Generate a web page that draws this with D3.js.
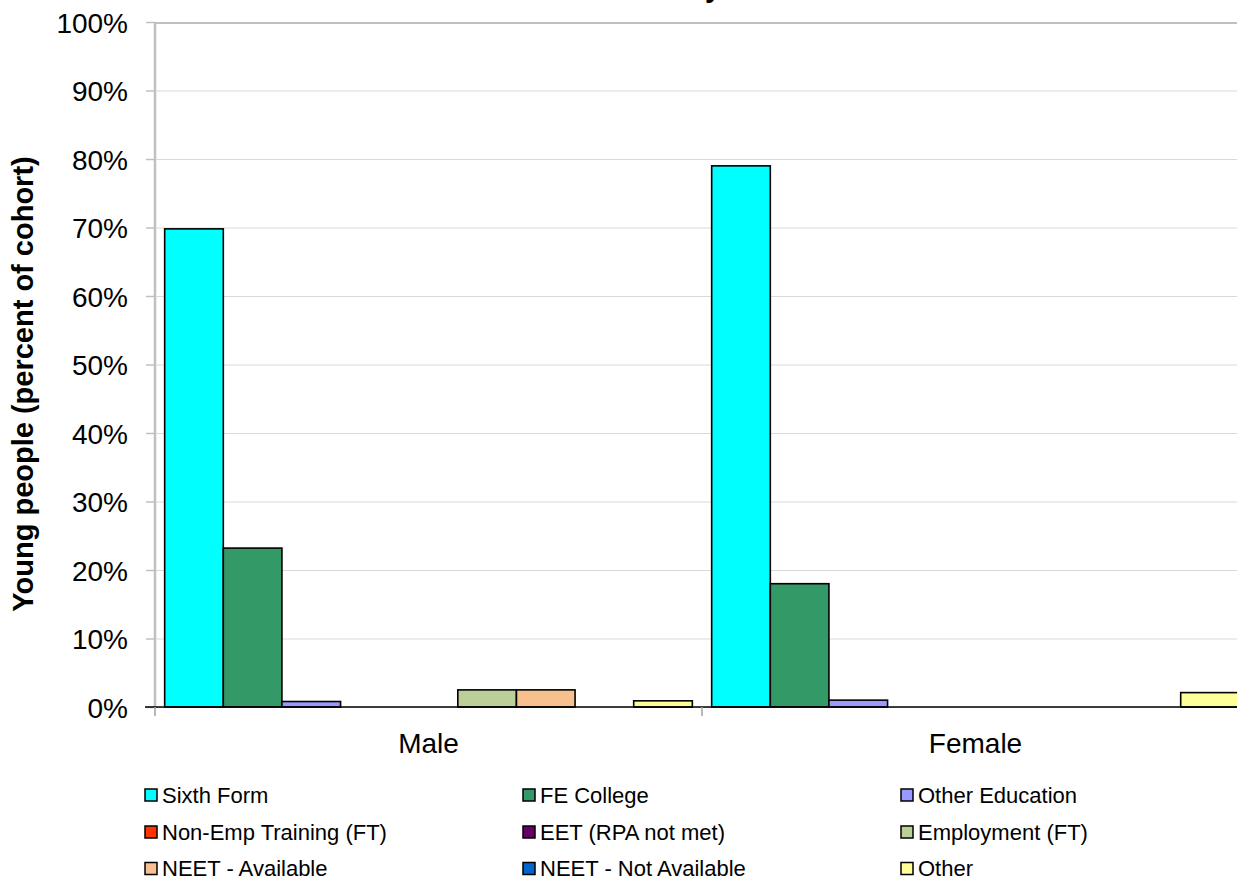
<!DOCTYPE html>
<html>
<head>
<meta charset="utf-8">
<script src="https://cdn.jsdelivr.net/npm/d3@7"></script>
<style>
  html, body { margin: 0; padding: 0; background: #fff; overflow: hidden; }
  svg { display: block; font-family: Arial, "Liberation Sans", sans-serif; }
</style>
</head>
<body>
<svg id="chart" width="1237" height="879"></svg>
<script>
// ---- Data ----
const chartTitle = "Destinations by Gender";
const yAxisTitle = "Young people (percent of cohort)";
const categories = ["Male", "Female"];
const seriesNames = [
  "Sixth Form", "FE College", "Other Education",
  "Non-Emp Training (FT)", "EET (RPA not met)", "Employment (FT)",
  "NEET - Available", "NEET - Not Available", "Other"
];
const seriesColors = [
  "#00FFFF", "#339966", "#9999FF",
  "#FF3300", "#660066", "#BBCF98",
  "#F9C08F", "#0066CC", "#FFFF99"
];
const maleValues   = [0.698, 0.232, 0.008, 0, 0, 0.025, 0.025, 0, 0.009];
const femaleValues = [0.790, 0.180, 0.010, 0, 0, 0, 0, 0, 0.021];
const yTicks = [0, 0.1, 0.2, 0.3, 0.4, 0.5, 0.6, 0.7, 0.8, 0.9, 1.0];

const valuesByCategory = { "Male": maleValues, "Female": femaleValues };

// ---- Layout ----
const svg = d3.select("#chart");
const plotLeft = 155, plotRight = 1249, plotTop = 22, plotBottom = 707;

const x0 = d3.scaleBand().domain(categories).range([plotLeft, plotRight]).paddingInner(0).paddingOuter(0);
const x1 = d3.scaleBand().domain(seriesNames).range([0, x0.bandwidth()]).paddingInner(0).paddingOuter(0.165);
const y = d3.scaleLinear().domain([0, 1]).range([plotBottom, plotTop]);
const color = d3.scaleOrdinal().domain(seriesNames).range(seriesColors);

// Gridlines
const grid = svg.append("g")
  .attr("transform", `translate(${plotLeft},0)`)
  .call(d3.axisLeft(y).tickValues(yTicks).tickSize(-(plotRight - plotLeft)).tickFormat(""));
grid.select(".domain").remove();
grid.selectAll("line").attr("stroke", "#d9d9d9").attr("stroke-width", 1);

// Plot border (top)
svg.append("line")
  .attr("x1", plotLeft).attr("x2", plotRight)
  .attr("y1", plotTop + 1).attr("y2", plotTop + 1)
  .attr("stroke", "#c0c0c0").attr("stroke-width", 2);

// Y axis
const yAxis = svg.append("g")
  .attr("transform", `translate(${plotLeft},0)`)
  .call(d3.axisLeft(y).tickValues(yTicks).tickSize(9).tickPadding(18).tickFormat(d3.format(".0%")));
yAxis.select(".domain").attr("stroke", "#c0c0c0").attr("stroke-width", 2.5).attr("d", `M0,${plotTop}V${plotBottom}`);
yAxis.selectAll(".tick line").attr("stroke", "#c0c0c0").attr("stroke-width", 1.5);
yAxis.selectAll(".tick text")
  .attr("font-size", 28).attr("fill", "#000")
  .attr("font-family", "Arial, 'Liberation Sans', sans-serif")
  .attr("dy", "0.36em");

// Bars
const groups = svg.append("g").selectAll("g")
  .data(categories).join("g")
  .attr("transform", d => `translate(${x0(d)},0)`);

groups.selectAll("rect")
  .data(cat => seriesNames.map((s, i) => ({ series: s, value: valuesByCategory[cat][i] })))
  .join("rect")
  .attr("x", d => x1(d.series))
  .attr("width", x1.bandwidth())
  .attr("y", d => y(d.value))
  .attr("height", d => y(0) - y(d.value))
  .attr("fill", d => color(d.series))
  .attr("stroke", "#000")
  .attr("stroke-width", 1.6);

// X axis
const xAxis = svg.append("g")
  .attr("transform", `translate(0,${plotBottom})`)
  .call(d3.axisBottom(x0).tickSize(0).tickPadding(26));
xAxis.select(".domain").attr("stroke", "#000").attr("stroke-width", 1.5).attr("d", `M${plotLeft - 10},0H${plotRight}`);
xAxis.selectAll(".tick text")
  .attr("font-size", 28).attr("fill", "#000")
  .attr("font-family", "Arial, 'Liberation Sans', sans-serif");
// Category separator ticks
svg.append("g").selectAll("line")
  .data(categories.map(c => x0(c)).concat([plotRight]))
  .join("line")
  .attr("x1", d => d).attr("x2", d => d)
  .attr("y1", plotBottom).attr("y2", plotBottom + 9)
  .attr("stroke", "#a0a0a0").attr("stroke-width", 1.5);

// Y axis title
svg.append("text")
  .attr("transform", `translate(33,${(143 + 625) / 2}) rotate(-90)`)
  .attr("text-anchor", "middle")
  .attr("font-size", 29).attr("font-weight", "bold")
  .text(yAxisTitle);

// Chart title (mostly above the visible area)
svg.append("text")
  .attr("x", 668).attr("y", -3)
  .attr("text-anchor", "middle")
  .attr("font-size", 29).attr("font-weight", "bold")
  .text(chartTitle);

// Legend
const legendCols = [145, 523, 901];
const legendRows = [795, 832, 868.5];
const legend = svg.append("g").selectAll("g")
  .data(seriesNames).join("g")
  .attr("transform", (d, i) => `translate(${legendCols[i % 3]},${legendRows[Math.floor(i / 3)]})`);
legend.append("rect")
  .attr("x", 0).attr("y", -6).attr("width", 12).attr("height", 12)
  .attr("fill", d => color(d)).attr("stroke", "#000").attr("stroke-width", 1.5);
legend.append("text")
  .attr("x", 17).attr("y", 0).attr("dy", "0.36em")
  .attr("font-size", 22).attr("fill", "#000")
  .text(d => d);
</script>
</body>
</html>
